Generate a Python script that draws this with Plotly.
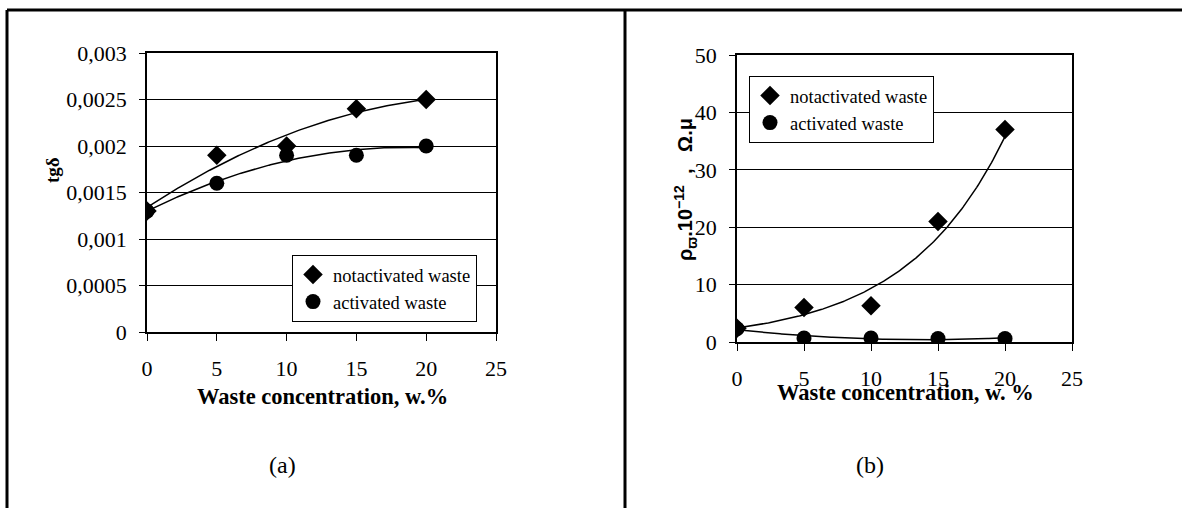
import numpy as np
import plotly.graph_objects as go

# ---------------- data ----------------
conc = [0, 5, 10, 15, 20]

# (a) dielectric loss tangent
tg_notact = [0.0013, 0.0019, 0.0020, 0.0024, 0.0025]
tg_act = [0.0013, 0.0016, 0.0019, 0.0019, 0.0020]

# (b) volume resistivity (x 10^-12, Ohm.m)
rho_notact = [2.4, 6.0, 6.3, 21.0, 37.0]
rho_act = [2.3, 0.7, 0.7, 0.6, 0.6]

x_ticks = [0, 5, 10, 15, 20, 25]
x_ticktext = ["0", "5", "10", "15", "20", "25"]
ya_ticks = [0, 0.0005, 0.001, 0.0015, 0.002, 0.0025, 0.003]
ya_ticktext = ["0", "0,0005", "0,001", "0,0015", "0,002", "0,0025", "0,003"]
yb_ticks = [0, 10, 20, 30, 40, 50]
yb_ticktext = ["0", "10", "20", "30", "40", "50"]

name_not = "notactivated waste"
name_act = "activated waste"

# ---------------- trend lines (fits computed from the data) ----------------
xs = np.linspace(0, 20, 200)
xa = np.array(conc, dtype=float)
fit_a_not = np.polyval(np.polyfit(xa, tg_notact, 2), xs)
fit_a_act = np.polyval(np.polyfit(xa, tg_act, 2), xs)
cb = np.polyfit(xa, np.log(rho_notact), 1)
fit_b_not = np.exp(np.polyval(cb, xs))
fit_b_act = np.polyval(np.polyfit(xa, rho_act, 2), xs)

W, H = 1182, 508
FONT = "Liberation Serif"
SANS = "Liberation Sans"


def px(x):
    return x / W


def py(y):
    return 1 - y / H


fig = go.Figure()

line_style = dict(color="black", width=1.5)
# (a)
fig.add_trace(go.Scatter(x=xs, y=fit_a_not, mode="lines", line=line_style,
                         showlegend=False, xaxis="x", yaxis="y", hoverinfo="skip"))
fig.add_trace(go.Scatter(x=xs, y=fit_a_act, mode="lines", line=line_style,
                         showlegend=False, xaxis="x", yaxis="y", hoverinfo="skip"))
fig.add_trace(go.Scatter(x=conc, y=tg_notact, mode="markers", name=name_not,
                         marker=dict(symbol="diamond", size=15, color="black"),
                         xaxis="x", yaxis="y", legend="legend", legendgroup="a1"))
fig.add_trace(go.Scatter(x=conc, y=tg_act, mode="markers", name=name_act,
                         marker=dict(symbol="circle", size=15, color="black"),
                         xaxis="x", yaxis="y", legend="legend", legendgroup="a2"))
# (b)
fig.add_trace(go.Scatter(x=xs, y=fit_b_not, mode="lines", line=line_style,
                         showlegend=False, xaxis="x2", yaxis="y2", hoverinfo="skip"))
fig.add_trace(go.Scatter(x=xs, y=fit_b_act, mode="lines", line=line_style,
                         showlegend=False, xaxis="x2", yaxis="y2", hoverinfo="skip"))
fig.add_trace(go.Scatter(x=conc, y=rho_notact, mode="markers", name=name_not,
                         marker=dict(symbol="diamond", size=15, color="black"),
                         xaxis="x2", yaxis="y2", legend="legend2", legendgroup="b1"))
fig.add_trace(go.Scatter(x=conc, y=rho_act, mode="markers", name=name_act,
                         marker=dict(symbol="circle", size=15, color="black"),
                         xaxis="x2", yaxis="y2", legend="legend2", legendgroup="b2"))

tickfont = dict(family=FONT, size=22, color="black")
xcommon = dict(range=[0, 25], tickvals=x_ticks, ticktext=x_ticktext, ticks="outside",
               ticklen=7, tickcolor="black", tickwidth=1, showline=True, linecolor="black",
               linewidth=1.5, mirror=True, showgrid=False, zeroline=False,
               tickfont=tickfont, ticklabelstandoff=9, fixedrange=True, automargin=False)
ycommon = dict(ticks="outside", ticklen=6, tickcolor="black", tickwidth=1, showline=True,
               linecolor="black", linewidth=1.5, mirror=True, showgrid=True,
               gridcolor="black", gridwidth=1, zeroline=False, tickfont=tickfont,
               ticklabelstandoff=8, fixedrange=True, automargin=False)

legend_common = dict(bgcolor="white", bordercolor="black", borderwidth=1,
                     font=dict(family=FONT, size=18.5, color="black"),
                     xanchor="left", yanchor="top", tracegroupgap=0,
                     itemwidth=30)


def label(text, x, y, size, family=FONT, angle=0):
    return dict(text=text, xref="paper", yref="paper", x=px(x), y=py(y),
                xanchor="center", yanchor="middle", showarrow=False,
                textangle=angle, font=dict(family=family, size=size, color="black"))


fig.update_layout(
    width=W, height=H,
    margin=dict(l=0, r=0, t=0, b=0, pad=0, autoexpand=False),
    paper_bgcolor="white", plot_bgcolor="white",
    font=dict(family=FONT, color="black"),
    separators=", ",
    xaxis=dict(domain=[px(147), px(496)], anchor="y", **xcommon),
    yaxis=dict(domain=[py(332), py(53)], anchor="x", range=[0, 0.003],
               tickvals=ya_ticks, ticktext=ya_ticktext, **ycommon),
    xaxis2=dict(domain=[px(737), px(1072)], anchor="y2", **xcommon),
    yaxis2=dict(domain=[py(342), py(55)], anchor="x2", range=[0, 50],
                tickvals=yb_ticks, ticktext=yb_ticktext, **ycommon),
    legend=dict(x=px(292), y=py(255), **legend_common),
    legend2=dict(x=px(749), y=py(76), **legend_common),
    shapes=[
        dict(type="line", xref="paper", yref="paper", x0=px(7), x1=1, y0=py(10), y1=py(10),
             line=dict(color="black", width=3)),
        dict(type="line", xref="paper", yref="paper", x0=px(7), x1=px(7), y0=0, y1=py(10),
             line=dict(color="black", width=3)),
        dict(type="line", xref="paper", yref="paper", x0=px(625), x1=px(625), y0=0, y1=py(10),
             line=dict(color="black", width=3)),
    ],
    annotations=[
        label("<b>Waste concentration, w.%</b>", 322, 396, 22.5),
        label("<b>Waste concentration, w. %</b>", 905, 392, 22.5),
        label("<b>tgδ</b>", 52, 170, 19, angle=-90),
        label("<b>ρ<sub>ϖ</sub>.10<sup>−12</sup>  ,   Ω.μ</b>", 685, 190, 20,
              family=SANS, angle=-90),
        label("(a)", 282, 465, 24),
        label("(b)", 870, 465, 24),
    ],
)

post = ("document.body.style.margin='0';"
        "var d=document.getElementById('{plot_id}');"
        "d.style.position='fixed';d.style.left='0px';d.style.top='0px';")
fig.write_html("out.html", post_script=post, config={"displayModeBar": False})
